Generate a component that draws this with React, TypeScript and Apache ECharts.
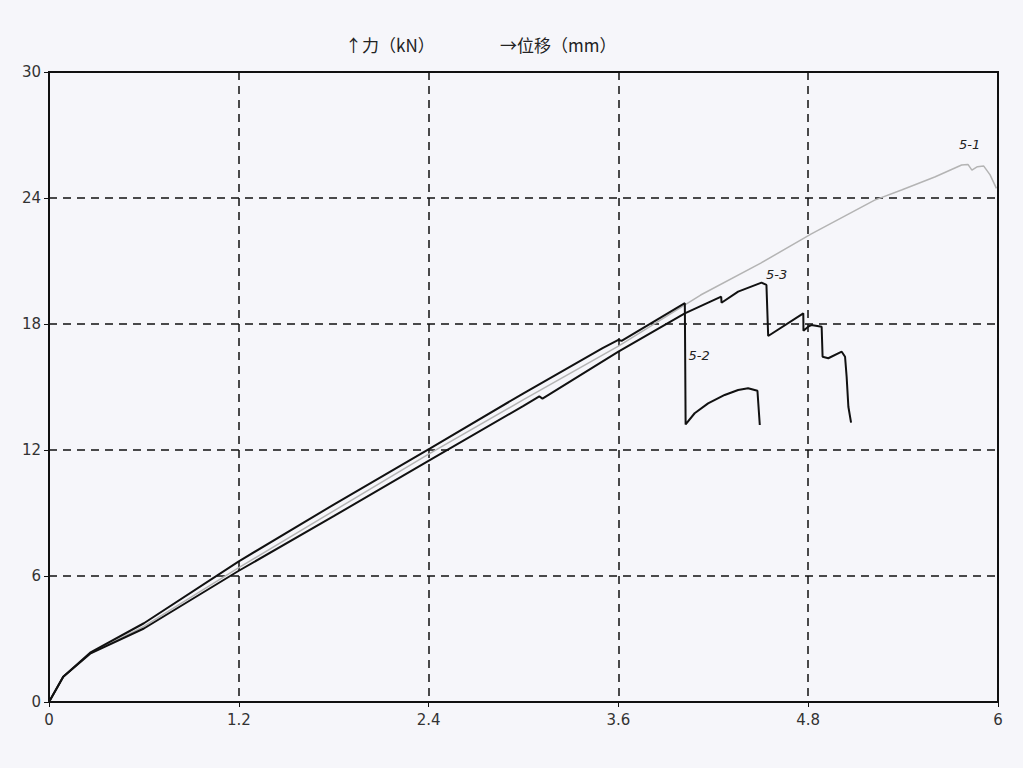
import React, { useEffect, useRef } from "react";
import * as echarts from "echarts";

const xTicks = [0, 1.2, 2.4, 3.6, 4.8, 6];
const yTicks = [0, 6, 12, 18, 24, 30];

// 5-1 (gray)
const s51x = [0, 0.09, 0.26, 0.6, 1.2, 1.8, 2.4, 3.0, 3.6, 4.12, 4.5, 4.82, 5.22, 5.39, 5.6, 5.77, 5.81, 5.835, 5.87, 5.91, 5.95, 5.99];
const s51y = [0, 1.2, 2.3, 3.6, 6.4, 9.1, 11.8, 14.4, 16.95, 19.38, 20.9, 22.29, 23.9, 24.38, 25.0, 25.57, 25.6, 25.33, 25.49, 25.52, 25.1, 24.46];

// 5-2 (black, upper line)
const s52x = [0, 0.09, 0.26, 0.6, 1.2, 1.8, 2.41, 3.0, 3.5, 3.6, 3.62, 4.02, 4.025, 4.082, 4.167, 4.272, 4.357, 4.42, 4.479, 4.494];
const s52y = [0, 1.2, 2.35, 3.75, 6.7, 9.4, 12.08, 14.7, 16.85, 17.24, 17.2, 18.99, 13.22, 13.75, 14.22, 14.62, 14.86, 14.94, 14.82, 13.19];

// 5-3 (black, lower line)
const s53x = [0, 0.09, 0.26, 0.6, 1.2, 1.8, 2.41, 3.0, 3.1, 3.12, 3.6, 4.02, 4.25, 4.252, 4.357, 4.505, 4.536, 4.547, 4.769, 4.77, 4.8, 4.82, 4.885, 4.891, 4.927, 5.012, 5.033, 5.043, 5.054, 5.071];
const s53y = [0, 1.2, 2.3, 3.5, 6.25, 8.85, 11.53, 14.1, 14.55, 14.45, 16.68, 18.51, 19.3, 19.01, 19.54, 19.97, 19.86, 17.43, 18.51, 17.68, 17.87, 17.95, 17.87, 16.44, 16.37, 16.68, 16.44, 15.49, 14.06, 13.3];

const zip = (xs: number[], ys: number[]) => xs.map((x, i) => [x, ys[i]]);

const labelStyle = {
  show: true,
  fontFamily: "DejaVu Sans",
  fontStyle: "italic" as const,
  fontSize: 13,
  color: "#222",
};

const BG = "#f6f6fa";

export default function App() {
  const ref = useRef<HTMLDivElement>(null);
  useEffect(() => {
    document.body.style.background = BG;
    const chart = echarts.init(ref.current!, null, { renderer: "svg" });
    const dashed = { show: true, lineStyle: { color: "#111", type: [8, 6] as any, width: 1.5 } };
    const mp = (coord: number[], value: string) => ({
      symbol: "circle",
      symbolSize: 1,
      itemStyle: { color: "transparent" },
      label: { ...labelStyle, position: "inside" },
      data: [{ coord, value }],
    });
    chart.setOption({
      animation: false,
      backgroundColor: BG,
      graphic: [
        {
          type: "text",
          left: 337,
          top: 28,
          style: { text: "↑力（kN）", font: "17px 'Noto Sans CJK SC'", fill: "#222" },
        },
        {
          type: "text",
          left: 492,
          top: 28,
          style: { text: "→位移（mm）", font: "17px 'Noto Sans CJK SC'", fill: "#222" },
        },
      ],
      grid: { left: 41, right: 17, top: 64, bottom: 58, show: true, borderColor: "#111", borderWidth: 2, backgroundColor: "transparent" },
      xAxis: {
        type: "value",
        min: 0,
        max: 6,
        interval: 1.2,
        axisLine: { show: true, lineStyle: { color: "#111", width: 2 } },
        axisTick: { show: true, length: 5, lineStyle: { color: "#111" } },
        axisLabel: {
          margin: 10,
          fontFamily: "DejaVu Sans",
          fontSize: 15,
          color: "#333",
          formatter: (v: number) => {
            const t = xTicks.find((k) => Math.abs(k - v) < 1e-6);
            return t === undefined ? "" : String(t);
          },
        },
        splitLine: dashed,
      },
      yAxis: {
        type: "value",
        min: 0,
        max: 30,
        interval: 6,
        axisLine: { show: true, lineStyle: { color: "#111", width: 2 } },
        axisTick: { show: true, length: 5, lineStyle: { color: "#111" } },
        axisLabel: {
          margin: 8,
          fontFamily: "DejaVu Sans",
          fontSize: 15,
          color: "#333",
          formatter: (v: number) => {
            const t = yTicks.find((k) => Math.abs(k - v) < 1e-6);
            return t === undefined ? "" : String(t);
          },
        },
        splitLine: dashed,
      },
      series: [
        {
          name: "5-1",
          type: "line",
          data: zip(s51x, s51y),
          showSymbol: false,
          lineStyle: { color: "#b4b4b4", width: 1.5 },
          markPoint: mp([5.82, 26.55], "5-1"),
        },
        {
          name: "5-2",
          type: "line",
          data: zip(s52x, s52y),
          showSymbol: false,
          lineStyle: { color: "#111", width: 2 },
          markPoint: mp([4.11, 16.5], "5-2"),
        },
        {
          name: "5-3",
          type: "line",
          data: zip(s53x, s53y),
          showSymbol: false,
          lineStyle: { color: "#111", width: 2 },
          markPoint: mp([4.6, 20.35], "5-3"),
        },
      ],
    });
    return () => chart.dispose();
  }, []);
  return <div ref={ref} style={{ width: 1007, height: 752 }} />;
}
